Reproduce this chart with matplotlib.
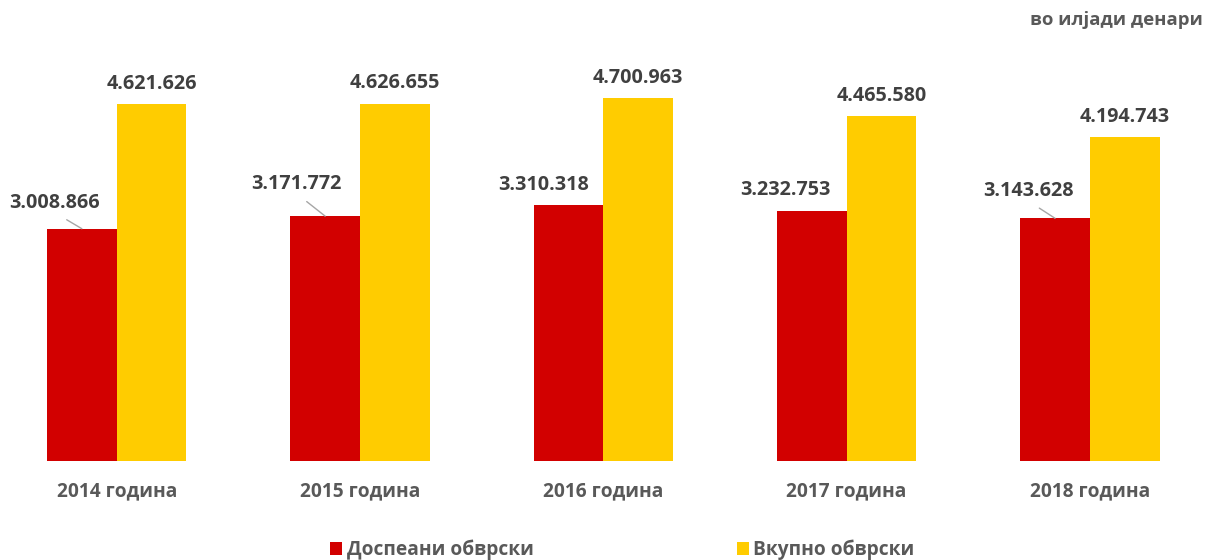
import matplotlib
matplotlib.use("Agg")
import matplotlib.pyplot as plt
import numpy as np

categories = ["2014 година", "2015 година", "2016 година", "2017 година", "2018 година"]
series_names = ["Доспеани обврски", "Вкупно обврски"]
due = [3008866, 3171772, 3310318, 3232753, 3143628]
total = [4621626, 4626655, 4700963, 4465580, 4194743]
unit_note = "во илјади денари"

# label offsets (pixels) for red labels, and whether a leader line is drawn
red_offsets = [(-27, 26), (-28.5, 32.5), (-24.5, 20.5), (-26.5, 21.5), (-27, 27.5)]
red_leader = [True, True, False, False, True]

RED = "#D20000"
YELLOW = "#FFCC00"
LABEL_COLOR = "#404040"
TICK_COLOR = "#595959"

plt.rcParams['font.family'] = ['Open Sans', 'DejaVu Sans']

fig = plt.figure(figsize=(12.06, 5.6), dpi=100)
bottom = (560 - 461) / 560
ax = fig.add_axes([0, bottom, 1, 386 / 560])

x = np.arange(len(categories))
w = 0.2865
b1 = ax.bar(x - w / 2, due, width=w, color=RED, label=series_names[0])
b2 = ax.bar(x + w / 2, total, width=w, color=YELLOW, label=series_names[1])

ax.set_xlim(-116.7 / 243.3, (1206 - 116.7) / 243.3)
ax.set_ylim(0, 5e6)


def fmt(v):
    return f"{v:,}".replace(",", ".")


for i, v in enumerate(due):
    dx, dy = red_offsets[i]
    kw = {}
    if red_leader[i]:
        kw["arrowprops"] = dict(arrowstyle="-", color="#A6A6A6", lw=1.0,
                                relpos=(0.5, 0.0), shrinkA=6, shrinkB=0)
    ax.annotate(fmt(v), xy=(x[i] - w / 2, v), xytext=(dx, dy),
                textcoords="offset pixels", ha="center", va="center",
                fontsize=14.2, fontweight="bold", color=LABEL_COLOR,
                annotation_clip=False, **kw)

for i, v in enumerate(total):
    ax.annotate(fmt(v), xy=(x[i] + w / 2, v), xytext=(0, 20.5),
                textcoords="offset pixels", ha="center", va="center",
                fontsize=14.2, fontweight="bold", color=LABEL_COLOR,
                annotation_clip=False)

ax.set_xticks(x)
ax.set_xticklabels(categories, fontsize=13.8, fontweight="bold", color=TICK_COLOR)
ax.tick_params(axis="x", length=0, pad=14.5)
ax.set_yticks([])
for s in ax.spines.values():
    s.set_visible(False)

fig.legend(handles=[b1, b2], labels=series_names, ncol=2, loc="center",
           bbox_to_anchor=(0.516, 0.018), frameon=False,
           handlelength=0.63, handleheight=0.63, handletextpad=0.22,
           columnspacing=10.6, borderpad=0, borderaxespad=0,
           prop=dict(size=13.8, weight="bold"), labelcolor=TICK_COLOR)

fig.text(0.9975, (560 - 20) / 560, unit_note, ha="right", va="center",
         fontsize=13.3, fontweight="bold", color=TICK_COLOR)

fig.savefig("out.png", dpi=100)
